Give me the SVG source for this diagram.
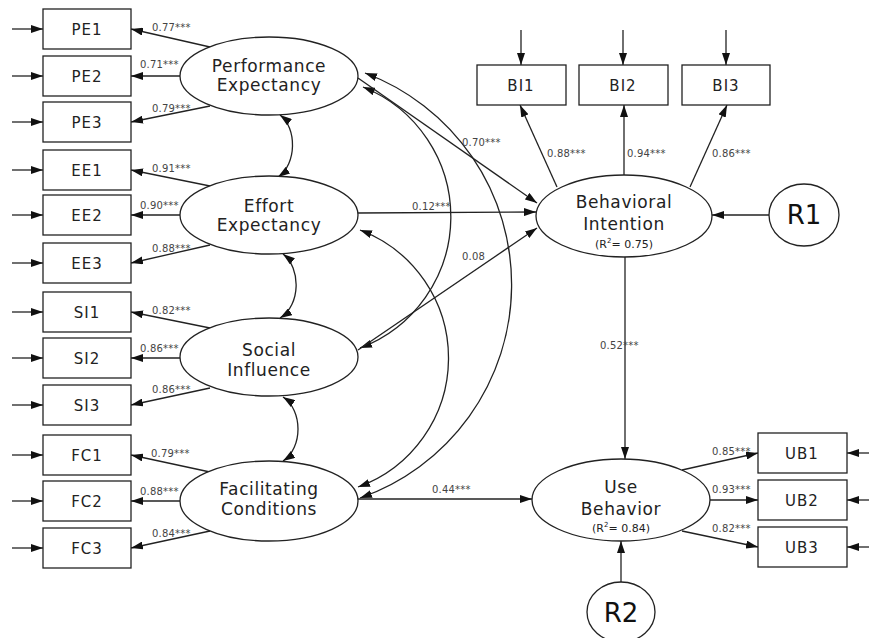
<svg xmlns="http://www.w3.org/2000/svg" width="869" height="638" viewBox="0 0 869 638">
<defs>
<marker id="ah" viewBox="0 0 12 8" refX="12" refY="4" markerWidth="12" markerHeight="8" markerUnits="userSpaceOnUse" orient="auto-start-reverse"><path d="M0,0 L12,4 L0,8 z" fill="#111"/></marker>
<style>
.box{fill:#fff;stroke:#222;stroke-width:1.3}
.lat{fill:#fff;stroke:#222;stroke-width:1.3}
.bl{font-family:"DejaVu Sans",sans-serif;font-size:15px;letter-spacing:1px;fill:#222;text-anchor:middle}
.ll{font-family:"DejaVu Sans",sans-serif;font-size:17px;letter-spacing:0.6px;fill:#222;text-anchor:middle}
.r2{font-family:"DejaVu Sans",sans-serif;font-size:11px;fill:#222;text-anchor:middle}
.rr{font-family:"DejaVu Sans",sans-serif;font-size:26px;fill:#111;text-anchor:middle}
.c{font-family:"DejaVu Sans",sans-serif;font-size:10px;letter-spacing:0.2px;fill:#444}
.e{fill:none;stroke:#222;stroke-width:1.3;marker-end:url(#ah)}
.cv{fill:none;stroke:#222;stroke-width:1.3;marker-start:url(#ah);marker-end:url(#ah)}
</style>
</defs>
<rect width="869" height="638" fill="#fff"/>

<g id="connectors">
<!-- error inputs left -->
<path class="e" d="M12,29 L43,29"/>
<path class="e" d="M12,76 L43,76"/>
<path class="e" d="M12,122 L43,122"/>
<path class="e" d="M12,170 L43,170"/>
<path class="e" d="M12,215 L43,215"/>
<path class="e" d="M12,263 L43,263"/>
<path class="e" d="M12,312 L43,312"/>
<path class="e" d="M12,358 L43,358"/>
<path class="e" d="M12,405 L43,405"/>
<path class="e" d="M12,455 L43,455"/>
<path class="e" d="M12,501 L43,501"/>
<path class="e" d="M12,548 L43,548"/>
<!-- loadings left -->
<path class="e" d="M210,47 L131,29"/>
<path class="e" d="M180,76 L131,76"/>
<path class="e" d="M210,106 L131,122"/>
<path class="e" d="M210,186 L131,170"/>
<path class="e" d="M180,215 L131,215"/>
<path class="e" d="M210,245 L131,263"/>
<path class="e" d="M210,328 L131,312"/>
<path class="e" d="M180,358 L131,358"/>
<path class="e" d="M210,388 L131,405"/>
<path class="e" d="M210,472 L131,455"/>
<path class="e" d="M180,501 L131,501"/>
<path class="e" d="M210,531 L131,548"/>
<!-- short covariances -->
<path class="cv" d="M280,115 C297,128 297,164 278,177"/>
<path class="cv" d="M283,254 C301,268 301,305 280,318"/>
<path class="cv" d="M283,397 C303,410 303,448 283,461"/>
<!-- long covariances -->
<path class="cv" d="M363,87 A140,140 0 0 1 360,348"/>
<path class="cv" d="M360,230 A137,137 0 0 1 358,487"/>
<path class="cv" d="M365,73 A226,226 0 0 1 360,498"/>
<!-- structural paths -->
<path class="e" d="M358,78 L537,203"/>
<path class="e" d="M358,213 L536,212"/>
<path class="e" d="M358,350 L537,228"/>
<path class="e" d="M358,499 L532,499"/>
<path class="e" d="M625,257 L625,459"/>
<path class="e" d="M769,215 L712,215"/>
<path class="e" d="M621,582 L621,541"/>
<!-- BI loadings & errors -->
<path class="e" d="M557,187 L520,105"/>
<path class="e" d="M624,175 L624,105"/>
<path class="e" d="M690,187 L727,105"/>
<path class="e" d="M521,30 L521,65"/>
<path class="e" d="M623,30 L623,65"/>
<path class="e" d="M726,30 L726,65"/>
<!-- UB loadings & errors -->
<path class="e" d="M682,470 L758,453"/>
<path class="e" d="M710,500 L758,500"/>
<path class="e" d="M682,531 L758,547"/>
<path class="e" d="M869,453 L847,453"/>
<path class="e" d="M869,500 L847,500"/>
<path class="e" d="M869,547 L847,547"/>
<!-- coefficient labels -->
<text class="c" x="152" y="31">0.77***</text>
<text class="c" x="140" y="68">0.71***</text>
<text class="c" x="152" y="112">0.79***</text>
<text class="c" x="152" y="172">0.91***</text>
<text class="c" x="140" y="209">0.90***</text>
<text class="c" x="152" y="252">0.88***</text>
<text class="c" x="152" y="314">0.82***</text>
<text class="c" x="140" y="352">0.86***</text>
<text class="c" x="152" y="393">0.86***</text>
<text class="c" x="151" y="457">0.79***</text>
<text class="c" x="140" y="495">0.88***</text>
<text class="c" x="152" y="537">0.84***</text>
<text class="c" x="462" y="146">0.70***</text>
<text class="c" x="412" y="210">0.12***</text>
<text class="c" x="462" y="260">0.08</text>
<text class="c" x="432" y="493">0.44***</text>
<text class="c" x="600" y="349">0.52***</text>
<text class="c" x="547" y="157">0.88***</text>
<text class="c" x="627" y="157">0.94***</text>
<text class="c" x="712" y="157">0.86***</text>
<text class="c" x="712" y="455">0.85***</text>
<text class="c" x="712" y="493">0.93***</text>
<text class="c" x="712" y="532">0.82***</text>
</g>

<g id="PE1"><rect class="box" x="43" y="9" width="88" height="40"/><text class="bl" x="87" y="35">PE1</text></g>
<g id="PE2"><rect class="box" x="43" y="56" width="88" height="40"/><text class="bl" x="87" y="82">PE2</text></g>
<g id="PE3"><rect class="box" x="43" y="102" width="88" height="40"/><text class="bl" x="87" y="128">PE3</text></g>
<g id="EE1"><rect class="box" x="43" y="150" width="88" height="40"/><text class="bl" x="87" y="176">EE1</text></g>
<g id="EE2"><rect class="box" x="43" y="195" width="88" height="40"/><text class="bl" x="87" y="221">EE2</text></g>
<g id="EE3"><rect class="box" x="43" y="243" width="88" height="40"/><text class="bl" x="87" y="269">EE3</text></g>
<g id="SI1"><rect class="box" x="43" y="292" width="88" height="40"/><text class="bl" x="87" y="318">SI1</text></g>
<g id="SI2"><rect class="box" x="43" y="338" width="88" height="40"/><text class="bl" x="87" y="364">SI2</text></g>
<g id="SI3"><rect class="box" x="43" y="385" width="88" height="40"/><text class="bl" x="87" y="411">SI3</text></g>
<g id="FC1"><rect class="box" x="43" y="435" width="88" height="40"/><text class="bl" x="87" y="461">FC1</text></g>
<g id="FC2"><rect class="box" x="43" y="481" width="88" height="40"/><text class="bl" x="87" y="507">FC2</text></g>
<g id="FC3"><rect class="box" x="43" y="528" width="88" height="40"/><text class="bl" x="87" y="554">FC3</text></g>

<g id="BI1"><rect class="box" x="477" y="65" width="89" height="40"/><text class="bl" x="521" y="91">BI1</text></g>
<g id="BI2"><rect class="box" x="579" y="65" width="89" height="40"/><text class="bl" x="623" y="91">BI2</text></g>
<g id="BI3"><rect class="box" x="682" y="65" width="88" height="40"/><text class="bl" x="726" y="91">BI3</text></g>

<g id="UB1"><rect class="box" x="758" y="433" width="89" height="40"/><text class="bl" x="802" y="459">UB1</text></g>
<g id="UB2"><rect class="box" x="758" y="480" width="89" height="40"/><text class="bl" x="802" y="506">UB2</text></g>
<g id="UB3"><rect class="box" x="758" y="527" width="89" height="40"/><text class="bl" x="802" y="553">UB3</text></g>

<g id="PE"><ellipse class="lat" cx="269" cy="76" rx="89" ry="39"/><text class="ll" x="269" y="72">Performance</text><text class="ll" x="269" y="91">Expectancy</text></g>
<g id="EE"><ellipse class="lat" cx="269" cy="215" rx="89" ry="39"/><text class="ll" x="269" y="212">Effort</text><text class="ll" x="269" y="231">Expectancy</text></g>
<g id="SI"><ellipse class="lat" cx="269" cy="357" rx="89" ry="39"/><text class="ll" x="269" y="356">Social</text><text class="ll" x="269" y="376">Influence</text></g>
<g id="FC"><ellipse class="lat" cx="269" cy="501" rx="89" ry="40"/><text class="ll" x="269" y="495">Facilitating</text><text class="ll" x="269" y="515">Conditions</text></g>

<g id="BI"><ellipse class="lat" cx="624" cy="216" rx="88" ry="41"/><text class="ll" x="624" y="208">Behavioral</text><text class="ll" x="624" y="230">Intention</text><text class="r2" x="624" y="248">(R<tspan font-size="7" dy="-5">2</tspan><tspan dy="5">= 0.75)</tspan></text></g>
<g id="UB"><ellipse class="lat" cx="621" cy="500" rx="89" ry="41"/><text class="ll" x="621" y="493">Use</text><text class="ll" x="621" y="515">Behavior</text><text class="r2" x="621" y="532">(R<tspan font-size="7" dy="-5">2</tspan><tspan dy="5">= 0.84)</tspan></text></g>

<g id="R1"><ellipse class="lat" cx="804" cy="215" rx="35" ry="31"/><text class="rr" x="804" y="224">R1</text></g>
<g id="R2"><ellipse class="lat" cx="621" cy="612" rx="34" ry="30"/><text class="rr" x="621" y="622">R2</text></g>
</svg>
